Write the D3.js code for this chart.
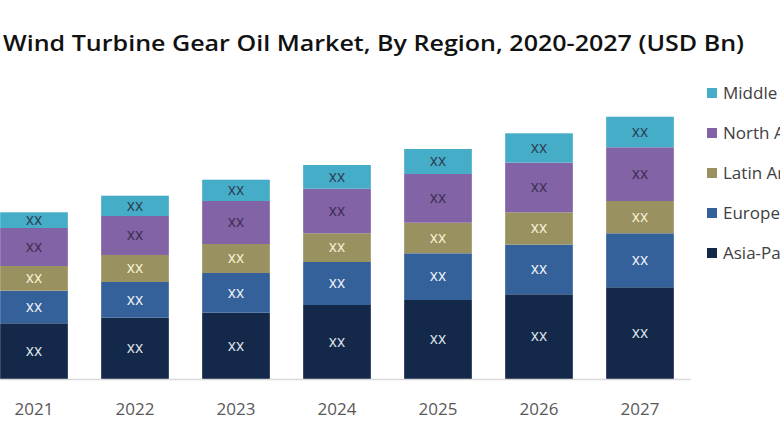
<!DOCTYPE html>
<html>
<head>
<meta charset="utf-8">
<script src="https://cdn.jsdelivr.net/npm/d3@7"></script>
<style>
  body { margin: 0; background: #fff; }
  svg { display: block; }
</style>
</head>
<body>
<div class="chart"></div>
<script>
// data (labels in the source are all "XX")
const years = ["2021", "2022", "2023", "2024", "2025", "2026", "2027"];
const regions = ["Asia-Pacific", "Europe", "Latin America", "North America", "Middle East & Africa"];
const asiaPacific  = [5.57, 6.13, 6.63, 7.40, 7.90, 8.47, 9.17];
const europe       = [3.26, 3.57, 3.97, 4.30, 4.67, 4.97, 5.40];
const latinAmerica = [2.47, 2.70, 2.90, 2.87, 3.06, 3.23, 3.23];
const northAmerica = [3.80, 3.90, 4.30, 4.46, 4.87, 4.97, 5.37];
const middleEast   = [1.57, 2.03, 2.13, 2.37, 2.50, 2.93, 3.06];
const seriesValues = [asiaPacific, europe, latinAmerica, northAmerica, middleEast];

const colors = ["#14284a", "#34619a", "#9a9160", "#8263a6", "#46adc9"];
const labelColors = ["#dfe4ec", "#eef2f8", "#f7f2d6", "#3e2f52", "#2c3f52"];

const W = 780, H = 440;
const baseY = 379;

const svg = d3.select(".chart")
    .append("svg")
    .attr("width", W)
    .attr("height", H);

// build table for the stack
const table = years.map((y, i) => {
    const row = { year: y };
    regions.forEach((r, k) => { row[r] = seriesValues[k][i]; });
    return row;
});
const stacked = d3.stack().keys(regions)(table);

const x = d3.scaleBand()
    .domain(years)
    .range([-17, 691])
    .paddingInner(0.33)
    .paddingOuter(0.17);

const y = d3.scaleLinear()
    .domain([0, 30])
    .range([baseY, baseY - 300]);

// title
svg.append("text")
    .attr("x", 3)
    .attr("y", 51)
    .attr("textLength", 741)
    .attr("lengthAdjust", "spacingAndGlyphs")
    .style("font-family", "'Open Sans', sans-serif")
    .style("font-weight", 600)
    .style("font-size", "21px")
    .style("fill", "#111")
    .text("Wind Turbine Gear Oil Market, By Region, 2020-2027 (USD Bn)");

// bars
const layers = svg.selectAll(".layer")
    .data(stacked)
    .enter()
    .append("g")
    .attr("class", "layer")
    .style("fill", (d, i) => colors[i]);

layers.selectAll("rect")
    .data(d => d)
    .enter()
    .append("rect")
    .attr("x", d => x(d.data.year))
    .attr("y", d => y(d[1]))
    .attr("width", x.bandwidth())
    .attr("height", d => y(d[0]) - y(d[1]));

layers.selectAll(".lbl")
    .data((d, i) => d.map(p => ({ p: p, k: i })))
    .enter()
    .append("text")
    .attr("class", "lbl")
    .attr("x", d => x(d.p.data.year) + x.bandwidth() / 2)
    .attr("y", d => (y(d.p[0]) + y(d.p[1])) / 2)
    .attr("dy", "0.36em")
    .attr("text-anchor", "middle")
    .style("font-family", "'Liberation Sans Narrow', 'Roboto', sans-serif")
    .style("font-size", "13px")
    .style("fill", d => labelColors[d.k])
    .text("XX");

// x axis
const xAxis = d3.axisBottom(x).tickSize(0).tickPadding(0);
const xAxisDisplay = svg.append("g")
    .attr("class", "axis x-axis")
    .attr("transform", `translate(0, ${baseY})`)
    .call(xAxis);
xAxisDisplay.select(".domain").remove();
xAxisDisplay.selectAll("text")
    .attr("y", 36)
    .attr("dy", 0)
    .style("font-family", "'Open Sans', sans-serif")
    .style("font-size", "17px")
    .style("fill", "#595959");

svg.append("line")
    .attr("x1", 0)
    .attr("x2", x.range()[1])
    .attr("y1", baseY + 0.5)
    .attr("y2", baseY + 0.5)
    .style("stroke", "#d9d9d9")
    .style("stroke-width", 1.5);

// legend (reverse order, top = Middle East)
const legend = svg.append("g");
const legendItems = legend.selectAll(".item")
    .data(regions.map((r, i) => ({ name: r, color: colors[i] })).reverse())
    .enter()
    .append("g")
    .attr("class", "item")
    .attr("transform", (d, i) => `translate(707, ${93 + i * 40})`);

legendItems.append("rect")
    .attr("x", 0)
    .attr("y", -5)
    .attr("width", 10)
    .attr("height", 10)
    .style("fill", d => d.color);

legendItems.append("text")
    .attr("x", 16)
    .attr("y", 0)
    .attr("dy", "0.36em")
    .style("font-family", "'Open Sans', sans-serif")
    .style("font-size", "17px")
    .style("fill", "#404040")
    .text(d => d.name);
</script>
</body>
</html>
